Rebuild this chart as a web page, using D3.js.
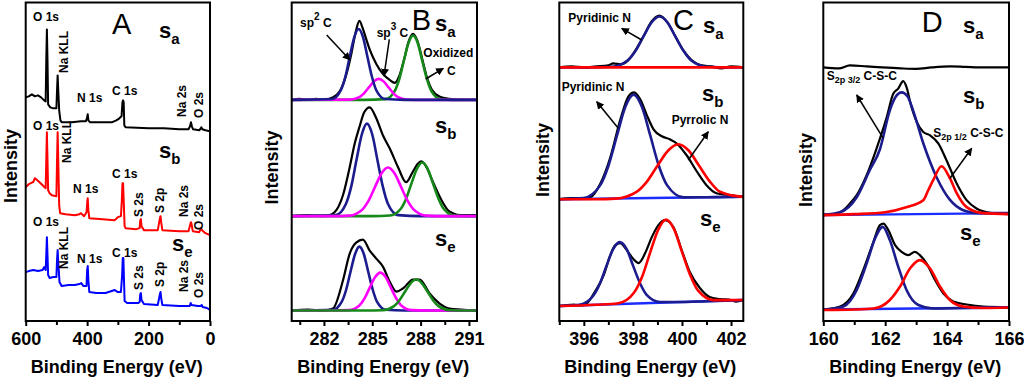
<!DOCTYPE html>
<html>
<head>
<meta charset="utf-8">
<script src="https://cdn.jsdelivr.net/npm/d3@7"></script>
<style>
body { margin: 0; background: #fff; }
svg text { font-family: "Liberation Sans", Arial, sans-serif; }
</style>
</head>
<body>
<div id="chart"></div>
<script>
// ---------------- data (binding energy eV, intensity a.u. above each trace's baseline) ----------------
var sampleNames = ['a', 'b', 'e'];

// A: survey spectra
var surveyOffsets = [190, 86, 11];
var surveySa = [[600,34],[590,35],[580,37],[570,35],[560,36],[550,34],[540,31],[535,30],[533,71],[531,102],[529,71],[527,27],[520,24],[510,23],[500,23],[498,41],[496,56],[494,41],[491,21],[487,11],[483,9],[450,9],[420,10],[404,10],[400,14],[398,17],[396,11],[390,9],[350,9],[320,9],[305,11],[295,13],[288,15],[285,29],[283,31],[281,29],[279,6],[275,4],[200,3],[150,3],[100,2],[70,2],[65,5],[62,9],[59,5],[55,2],[35,1],[28,4],[25,2],[15,1],[0,0]];
var surveySb = [[600,48],[590,51],[576,53],[570,57],[562,55],[555,53],[545,50],[535,47],[533,75],[531,103],[529,75],[527,45],[522,42],[515,40],[500,39],[498,75],[496,103],[494,75],[491,30],[488,22],[470,21],[440,20],[425,21],[420,22],[410,19],[402,23],[399,35],[398,37],[396,25],[393,17],[350,16],[310,15],[300,18],[290,19],[287,35],[285,52],[283,52],[281,35],[278,9],[275,7],[240,6],[229,7],[227,15],[225,16],[223,9],[215,5],[170,5],[163,17],[161,19],[159,13],[155,5],[100,4],[70,4],[64,11],[62,13],[60,11],[56,4],[35,3],[29,7],[26,5],[15,2],[0,0]];
var surveySe = [[600,38],[590,39],[575,40],[560,39],[545,40],[540,43],[535,40],[533,55],[531,73],[529,55],[527,35],[522,32],[510,33],[500,33],[498,50],[496,60],[494,48],[490,28],[483,24],[460,25],[440,25],[425,26],[419,27],[412,24],[402,24],[400,40],[398,44],[396,30],[393,18],[370,17],[340,17],[310,20],[300,18],[290,18],[286,35],[284,52],[282,52],[280,30],[278,9],[270,7],[235,7],[229,8],[227,16],[225,17],[223,10],[215,6],[170,5],[163,16],[161,18],[159,12],[155,5],[100,4],[66,4],[63,7],[60,5],[40,4],[30,4],[27,5],[24,3],[10,2],[0,0]];
var surveyTicks = [600, 400, 200, 0];
var surveyMinor = [500, 300, 100];

// B: C 1s
var c1sOffsets = [221.5, 105, 10.5];
var c1sSaRaw = [[280,0],[280.5,1],[281,0],[281.5,1],[282,0],[282.5,2],[283,9],[283.4,26],[283.7,46],[284,70],[284.2,79],[284.4,72],[284.6,62],[284.85,50],[285.25,36],[285.66,26],[286.08,20],[286.4,17],[286.7,25],[287,42],[287.25,58],[287.53,66],[287.8,59],[288.1,41],[288.4,22],[288.7,10],[289.2,3],[289.8,1],[290.5,0],[291.5,0]];
var c1sSaSp2 = [[280,0],[282.5,0.8],[283.05,9.6],[283.33,23.1],[283.6,43.1],[283.88,62.6],[284.15,71],[284.43,62.6],[284.7,43.1],[284.98,23.1],[285.25,9.6],[285.8,0.8],[287,0],[291.5,0]];
var c1sSaSp3 = [[280,0],[283.6,0.2],[284.2,2.8],[284.5,6.8],[284.8,12.7],[285.1,18.5],[285.4,21],[285.7,18.5],[286,12.7],[286.3,6.8],[286.6,2.8],[287.2,0.2],[288,0],[291.5,0]];
var c1sSaOx = [[280,0],[284.5,0],[285.82,0.7],[286.39,8.7],[286.68,21],[286.96,39.2],[287.25,56.9],[287.53,64.5],[287.82,56.9],[288.1,39.2],[288.39,21],[288.67,8.7],[289.24,0.7],[290,0],[291.5,0]];
var c1sSbRaw = [[280,0],[281,1],[282,0],[282.5,2],[282.77,6],[283.2,22],[283.6,49],[283.9,72],[284.2,89],[284.5,104],[284.84,109],[285.25,98],[285.66,81],[286.08,68],[286.6,49],[287.1,34],[287.5,44],[287.8,52],[288.05,55],[288.4,48],[288.67,38],[289,26],[289.3,16],[289.7,6],[290,3],[290.5,1],[291.5,1]];
var c1sSbSp2 = [[280,0],[282.72,1],[283.37,12.5],[283.7,30.1],[284.02,56.3],[284.35,81.8],[284.67,92.7],[285,81.8],[285.32,56.3],[285.65,30.1],[285.97,12.5],[286.62,1],[288,0],[291.5,0]];
var c1sSbSp3 = [[280,0],[282.5,0],[283.58,0.5],[284.38,6.6],[284.78,15.8],[285.18,29.6],[285.58,43],[285.98,48.7],[286.38,43],[286.78,29.6],[287.18,15.8],[287.58,6.6],[288.38,0.5],[289.5,0],[291.5,0]];
var c1sSbOx = [[280,0],[285,0],[286.09,0.6],[286.76,7.2],[287.1,17.5],[287.43,32.6],[287.77,47.4],[288.1,53.7],[288.44,47.4],[288.77,32.6],[289.11,17.5],[289.44,7.2],[290.11,0.6],[291,0],[291.5,0]];
var c1sSeRaw = [[280,0],[281,1],[282,0],[282.56,2],[283.18,30],[283.6,57],[284,68],[284.42,71],[284.84,60],[285.25,52],[285.66,44],[286.08,29],[286.5,19],[286.9,22],[287.53,31],[287.94,31],[288.56,17],[289.18,7],[289.8,2],[290.5,1],[291.5,0]];
var c1sSeSp2 = [[280,0],[282.55,0.7],[283.1,8.6],[283.38,20.8],[283.65,38.8],[283.93,56.4],[284.2,64],[284.48,56.4],[284.75,38.8],[285.03,20.8],[285.3,8.6],[285.85,0.7],[287,0],[291.5,0]];
var c1sSeSp3 = [[280,0],[282.5,0],[283.55,0.4],[284.2,5.1],[284.53,12.4],[284.85,23.1],[285.18,33.5],[285.5,38],[285.83,33.5],[286.15,23.1],[286.48,12.4],[286.8,5.1],[287.45,0.4],[288.5,0],[291.5,0]];
var c1sSeOx = [[280,0],[284.5,0],[285.63,0.3],[286.33,4.2],[286.68,10.1],[287.03,18.8],[287.38,27.3],[287.73,31],[288.08,27.3],[288.43,18.8],[288.78,10.1],[289.13,4.2],[289.83,0.3],[291,0],[291.5,0]];
var c1sTicks = [282, 285, 288, 291];
var c1sMinor = [280.5, 283.5, 286.5, 289.5];

// C: N 1s
var n1sOffsets = [254, 122, 16];
var n1sSaRaw = [[395,0],[395.5,1],[396,0],[396.5,1],[397,2],[397.2,4],[397.5,3],[397.8,7],[398.1,17],[398.43,31],[398.76,46],[399.08,52],[399.41,45],[399.73,31],[400.06,17],[400.4,7],[400.8,2],[401.2,1],[401.6,-1],[402,1],[402.5,0]];
var n1sSaPyridinic = [[395,0],[396,0],[397.13,0.6],[397.78,6.9],[398.11,16.6],[398.43,31],[398.76,45],[399.08,51],[399.41,45],[399.73,31],[400.06,16.6],[400.38,6.9],[401.03,0.6],[402,0],[402.5,0]];
var n1sSaPyrrolic = [[395,0],[402.5,0]];
var n1sSbRaw = [[395,0],[395.5,1],[396,1],[396.27,2],[396.68,16],[397.08,42],[397.49,80],[397.82,103],[398.05,107],[398.3,100],[398.57,84],[398.84,70],[399.18,63],[399.5,60],[399.78,56],[400.19,44],[400.6,28],[401,14],[401.4,6],[401.95,4],[402.5,2]];
var n1sSbPyridinic = [[395,0],[395.99,1.2],[396.67,14.1],[397.01,34],[397.35,63.6],[397.69,92.3],[398.03,104.7],[398.37,92.3],[398.71,63.6],[399.05,34],[399.39,14.1],[400.07,1.8],[401,2],[402.5,2.5]];
var n1sSbPyrrolic = [[395,0],[396.5,0],[397.3,0.6],[398.15,7.4],[398.58,17.9],[399,33.4],[399.43,48.5],[399.85,55],[400.28,48.5],[400.7,33.4],[401.13,17.9],[401.55,7.4],[402.4,2.6],[402.5,2.5]];
var n1sSbBase = [[395,0],[402.5,2.5]];
var n1sSeRaw = [[395,-1],[395.3,0],[395.6,0.5],[395.9,-0.5],[396.14,2],[396.41,11.7],[396.81,30],[397.08,50],[397.28,60],[397.48,62],[397.75,55],[398.02,46],[398.23,42],[398.5,52],[398.77,68],[399.04,80],[399.31,85],[399.65,78],[399.99,55],[400.32,33],[400.73,17],[401.13,8],[401.54,6],[402,5],[402.2,3.5],[402.5,5]];
var n1sSePyridinic = [[395,-1],[395.81,0.3],[396.36,8.5],[396.64,20.5],[396.91,38.3],[397.19,55.7],[397.46,63],[397.74,56.2],[398.01,39.2],[398.29,21.8],[398.56,10.2],[399.11,3],[400,3],[401,3.8],[402.5,5]];
var n1sSePyrrolic = [[395,-1],[396.5,0.2],[397.4,1.8],[398.05,12.6],[398.38,28.6],[398.7,52.3],[399.03,75.3],[399.35,85.5],[399.68,75.8],[400,53.3],[400.33,30.2],[400.65,14.6],[401.3,4.9],[402.5,5]];
var n1sSeBase = [[395,-1],[402.5,5]];
var n1sTicks = [396, 398, 400, 402];
var n1sMinor = [395, 397, 399, 401];

// D: S 2p
var s2pOffsets = [254, 106, 11.5];
var s2pSaRaw = [[160,0],[160.5,-1],[160.86,2],[161.4,1],[161.9,0],[162.5,-1],[163,-1.5],[163.5,0],[164.1,1],[164.6,0.5],[165.2,0],[166,0]];
var s2pSbRaw = [[160,0],[160.43,1.7],[160.65,5],[160.86,11.7],[161.08,20],[161.4,40],[161.72,66.7],[162.05,98.3],[162.26,121.7],[162.42,126.7],[162.58,134.3],[162.69,128.3],[162.82,111.7],[163.02,93.3],[163.23,83.3],[163.45,80],[163.72,71.7],[163.98,55],[164.31,31.7],[164.63,15],[164.95,6.7],[165.39,2.3],[166,1]];
var s2pSb32 = [[160,0.5],[160.54,3],[161.08,18],[161.5,45],[161.83,66],[162.15,105],[162.35,119],[162.53,123],[162.72,119],[162.9,105],[163.23,72],[163.66,38],[164.1,15],[164.52,5],[165,2],[166,2]];
var s2pSb12 = [[160,0],[161,1],[162,3],[162.68,8],[163.23,15],[163.39,25],[163.55,35],[163.82,49],[164.09,37],[164.31,22],[164.63,8],[165.17,2],[166,1]];
var s2pSbBase = [[160,0],[166,2]];
var s2pSeRaw = [[160,0],[160.54,3],[160.97,16],[161.29,39.5],[161.62,67.8],[161.83,84.5],[161.94,86],[162.1,79.5],[162.32,64.5],[162.53,57.8],[162.75,54.5],[162.96,57.8],[163.12,54.5],[163.34,46],[163.61,29.5],[163.88,16],[164.2,8],[164.63,5],[165.17,3],[166,2.5]];
var s2pSe32 = [[160,0],[160.65,3],[161.08,19.5],[161.4,46],[161.67,71],[161.92,82.8],[162.15,69.5],[162.42,43],[162.69,19.5],[163.07,4.5],[163.55,1],[164.5,1.5],[166,2]];
var s2pSe12 = [[160,-0.5],[161,0],[161.62,1],[162.15,9.5],[162.48,23],[162.8,41],[163.12,49.5],[163.45,41],[163.77,23],[164.09,9.5],[164.52,3],[165.17,1.5],[166,2]];
var s2pSeBase = [[160,0],[166,2]];
var s2pTicks = [160, 162, 164, 166];
var s2pMinor = [161, 163, 165];

// ---------------- drawing ----------------
var width = 1024, height = 379;
var plotTop = 2.5, plotBottom = 321;
var navy = '#1c1c8e', magenta = '#ff00ff', green = '#17891a', red = '#ff0000', bright = '#1a2cff';

var svg = d3.select('#chart').append('svg')
    .attr('width', width).attr('height', height);

var defs = svg.append('defs');
defs.append('marker')
    .attr('id', 'arrow').attr('viewBox', '0 0 10 10')
    .attr('refX', 9).attr('refY', 5)
    .attr('markerWidth', 8).attr('markerHeight', 8)
    .attr('markerUnits', 'userSpaceOnUse')
    .attr('orient', 'auto')
    .append('path').attr('d', 'M0,0 L10,5 L0,10 Z').attr('fill', '#000');

function addPanel(p) {
    var xScale = d3.scaleLinear().domain(p.domain).range([p.left, p.right]);
    var yScale = d3.scaleLinear().domain([0, 319]).range([plotBottom, plotTop]);

    defs.append('clipPath').attr('id', 'clip' + p.name)
        .append('rect')
        .attr('x', p.left).attr('y', plotTop)
        .attr('width', p.right - p.left).attr('height', plotBottom - plotTop);

    var g = svg.append('g').attr('clip-path', 'url(#clip' + p.name + ')');

    p.traces.forEach(function(t) {
        var linePath = d3.line()
            .x(function(d) { return xScale(d[0]); })
            .y(function(d) { return yScale(d[1] + t.offset); })
            .curve(t.smooth ? d3.curveMonotoneX : d3.curveLinear);
        g.append('path')
            .attr('d', linePath(t.data))
            .attr('fill', 'none')
            .attr('stroke', t.color)
            .attr('stroke-width', t.width)
            .attr('stroke-linejoin', 'round');
    });

    // frame
    svg.append('rect')
        .attr('x', p.left).attr('y', plotTop)
        .attr('width', p.right - p.left).attr('height', plotBottom - plotTop)
        .attr('fill', 'none').attr('stroke', '#000').attr('stroke-width', 2);

    var xAxis = d3.axisBottom(xScale)
        .tickValues(p.ticks)
        .tickSize(5)
        .tickPadding(6)
        .tickFormat(d3.format('d'));
    var ax = svg.append('g')
        .attr('transform', 'translate(0,' + plotBottom + ')')
        .call(xAxis);
    ax.select('.domain').remove();
    ax.selectAll('line').attr('stroke-width', 2);
    ax.selectAll('text')
        .attr('font-family', '"Liberation Sans", Arial, sans-serif')
        .attr('font-size', 18).attr('font-weight', 'bold').attr('fill', '#000');

    var minorAxis = d3.axisBottom(xScale).tickValues(p.minor).tickSize(4).tickFormat('');
    var mx = svg.append('g')
        .attr('transform', 'translate(0,' + plotBottom + ')')
        .call(minorAxis);
    mx.select('.domain').remove();
    mx.selectAll('line').attr('stroke-width', 2);

    // axis titles
    svg.append('text')
        .attr('x', (p.left + p.right) / 2 - 1).attr('y', 373)
        .attr('text-anchor', 'middle')
        .attr('font-size', 18).attr('font-weight', 'bold')
        .text('Binding Energy (eV)');
    svg.append('text')
        .attr('transform', 'translate(' + p.yTitleX + ',' + p.yTitleY + ') rotate(-90)')
        .attr('text-anchor', 'middle')
        .attr('font-size', 18).attr('font-weight', 'bold')
        .text('Intensity');

    // panel letter
    svg.append('text')
        .attr('x', p.letterX).attr('y', p.letterY)
        .attr('font-size', 29)
        .text(p.name);

    // sample labels
    p.sampleLabels.forEach(function(s, i) {
        var t = svg.append('text').attr('x', s[0]).attr('y', s[1])
            .attr('font-weight', 'bold');
        t.append('tspan').attr('font-size', 22).text('s');
        t.append('tspan').attr('font-size', 15).attr('dy', 6).text(sampleNames[i]);
    });
}

function traces(offsets, list) {
    var out = [];
    list.forEach(function(l) {
        out.push({ data: l[0], offset: offsets[l[1]], color: l[2], width: l[3], smooth: l[4] });
    });
    return out;
}

addPanel({
    name: 'A', domain: [600, 0], left: 25.7, right: 210,
    ticks: surveyTicks, minor: surveyMinor,
    yTitleX: 16.5, yTitleY: 166, letterX: 112, letterY: 34,
    sampleLabels: [[159, 38], [159, 158], [172, 251]],
    traces: traces(surveyOffsets, [
        [surveySa, 0, '#000', 2, false],
        [surveySb, 1, red, 2, false],
        [surveySe, 2, '#0000ff', 2, false]
    ])
});

addPanel({
    name: 'B', domain: [280, 291.5], left: 291.7, right: 477,
    ticks: c1sTicks, minor: c1sMinor,
    yTitleX: 278, yTitleY: 167.5, letterX: 411.7, letterY: 30,
    sampleLabels: [[435, 31], [435, 133], [435, 246]],
    traces: traces(c1sOffsets, [
        [c1sSaRaw, 0, '#000', 2.2, true],
        [c1sSaOx, 0, green, 2.6, true],
        [c1sSaSp3, 0, magenta, 2.6, true],
        [c1sSaSp2, 0, navy, 2.6, true],
        [c1sSbRaw, 1, '#000', 2.2, true],
        [c1sSbSp2, 1, navy, 2.6, true],
        [c1sSbOx, 1, green, 2.6, true],
        [c1sSbSp3, 1, magenta, 2.6, true],
        [c1sSeRaw, 2, '#000', 2.2, true],
        [c1sSeSp2, 2, navy, 2.6, true],
        [c1sSeSp3, 2, magenta, 2.6, true],
        [c1sSeOx, 2, green, 2.6, true]
    ])
});

addPanel({
    name: 'C', domain: [395, 402.5], left: 559.3, right: 743.3,
    ticks: n1sTicks, minor: n1sMinor,
    yTitleX: 549, yTitleY: 160, letterX: 673, letterY: 30,
    sampleLabels: [[703, 33], [702, 101], [700, 226]],
    traces: traces(n1sOffsets, [
        [n1sSaRaw, 0, '#000', 2.2, true],
        [n1sSaPyridinic, 0, navy, 2.6, true],
        [n1sSaPyrrolic, 0, red, 2.6, true],
        [n1sSbRaw, 1, '#000', 2.2, true],
        [n1sSbBase, 1, bright, 2.4, false],
        [n1sSbPyridinic, 1, navy, 2.6, true],
        [n1sSbPyrrolic, 1, red, 2.6, true],
        [n1sSeRaw, 2, '#000', 2.2, true],
        [n1sSeBase, 2, bright, 2.4, false],
        [n1sSePyridinic, 2, navy, 2.6, true],
        [n1sSePyrrolic, 2, red, 2.6, true]
    ])
});

addPanel({
    name: 'D', domain: [160, 166], left: 823.3, right: 1009,
    ticks: s2pTicks, minor: s2pMinor,
    yTitleX: 812, yTitleY: 170, letterX: 921.7, letterY: 32,
    sampleLabels: [[963, 33], [963, 103], [960, 240]],
    traces: traces(s2pOffsets, [
        [s2pSaRaw, 0, '#000', 2.2, true],
        [s2pSbRaw, 1, '#000', 2.2, true],
        [s2pSbBase, 1, bright, 2.4, false],
        [s2pSb32, 1, navy, 2.6, true],
        [s2pSb12, 1, red, 2.6, true],
        [s2pSeRaw, 2, '#000', 2.2, true],
        [s2pSeBase, 2, bright, 2.4, false],
        [s2pSe32, 2, navy, 2.6, true],
        [s2pSe12, 2, red, 2.6, true]
    ])
});

// ---------------- annotations ----------------
function label(x, y, txt, size) {
    return svg.append('text').attr('x', x).attr('y', y)
        .attr('font-size', size || 12).attr('font-weight', 'bold').text(txt);
}
function vlabel(x, y, txt) {
    svg.append('text')
        .attr('transform', 'translate(' + x + ',' + y + ') rotate(-90)')
        .attr('font-size', 12).attr('font-weight', 'bold').text(txt);
}
function arrow(x1, y1, x2, y2) {
    svg.append('line')
        .attr('x1', x1).attr('y1', y1).attr('x2', x2).attr('y2', y2)
        .attr('stroke', '#000').attr('stroke-width', 1.5)
        .attr('marker-end', 'url(#arrow)');
}

// survey peak names
[[21, 102, 95], [130, 193, 178], [226, 263, 257]].forEach(function(r, i) {
    label(33, r[0], 'O 1s');
    label(i === 1 ? 73 : 77, r[1], 'N 1s');
    label(112, r[2], 'C 1s');
});
vlabel(68, 73, 'Na KLL');
vlabel(70.5, 163, 'Na KLL');
vlabel(68, 269, 'Na KLL');
vlabel(186, 117, 'Na 2s');
vlabel(202.5, 118, 'O 2s');
vlabel(143, 217, 'S 2s');
vlabel(164, 213, 'S 2p');
vlabel(188, 217, 'Na 2s');
vlabel(203, 230, 'O 2s');
vlabel(143, 290, 'S 2s');
vlabel(164, 287, 'S 2p');
vlabel(188, 292, 'Na 2s');
vlabel(203, 298, 'O 2s');

// C 1s
var t1 = label(300, 26.7, 'sp');
t1.append('tspan').attr('dy', -7).attr('font-size', 10).text('2');
t1.append('tspan').attr('dy', 7).text(' C');
arrow(326.7, 35, 350, 60);
var t2 = label(376.7, 36.7, 'sp');
t2.append('tspan').attr('dy', -7).attr('font-size', 10).text('3');
t2.append('tspan').attr('dy', 7).text(' C');
arrow(389.3, 39.3, 384, 76);
label(423.3, 57.3, 'Oxidized');
label(447, 75, 'C');
arrow(425.7, 79, 443.3, 68.3);

// N 1s
label(568.3, 21.7, 'Pyridinic N');
arrow(641.7, 40, 621.7, 28.3);
label(561.7, 91, 'Pyridinic N');
arrow(618.3, 128.3, 596.7, 101.7);
label(671.7, 124, 'Pyrrolic N');
arrow(688.3, 160, 708.3, 131.7);

// S 2p
var t3 = label(826.7, 80, 'S');
t3.append('tspan').attr('dy', 3).attr('font-size', 9).text('2p 3/2');
t3.append('tspan').attr('dy', -3).text(' C-S-C');
arrow(883.3, 138.3, 856.7, 95);
var t4 = label(933.3, 137, 'S');
t4.append('tspan').attr('dy', 3).attr('font-size', 9).text('2p 1/2');
t4.append('tspan').attr('dy', -3).text(' C-S-C');
arrow(950, 178.3, 971.7, 148.3);
</script>
</body>
</html>
